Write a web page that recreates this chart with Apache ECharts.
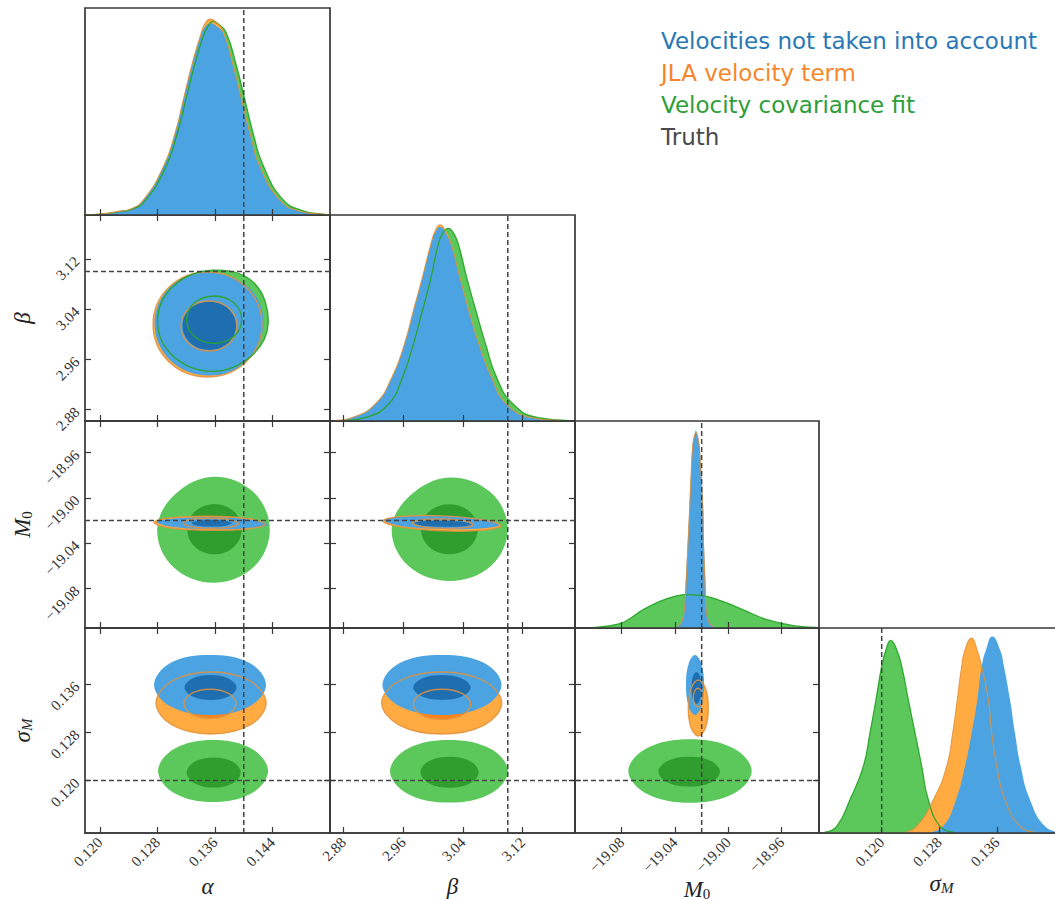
<!DOCTYPE html>
<html><head><meta charset="utf-8">
<script src="https://cdn.jsdelivr.net/npm/echarts@6/dist/echarts.min.js"></script>
<style>html,body{margin:0;padding:0;background:#fff}#c{width:1055px;height:899px}</style>
</head><body><div id="c"></div>
<script>
// ---------------- data ----------------
const alphaRange = [0.1179, 0.1520];
const betaRange = [2.862, 3.190];
const m0Range = [-19.115, -18.932];
const sigmaRange = [0.1113, 0.1453];
const alphaTicks = [0.120, 0.128, 0.136, 0.144];
const betaTicks = [2.88, 2.96, 3.04, 3.12];
const m0Ticks = [-19.08, -19.04, -19.00, -18.96];
const sigmaTicks = [0.120, 0.128, 0.136];
const truthValues = [0.14, 3.10, -19.02, 0.120];
const diagMax = [1.08, 1.062, 1.048, 1.043];
const legendLabels = ['Velocities not taken into account', 'JLA velocity term', 'Velocity covariance fit', 'Truth'];

// 1D marginals [value, relative density]
const alphaBlue = [[0.1180,0.002],[0.11999,0.005],[0.12277,0.02],[0.12416,0.03],[0.12601,0.078],[0.12880,0.252],[0.13043,0.426],[0.13158,0.600],[0.13275,0.774],[0.13414,0.948],[0.13470,0.985],[0.13530,1.0],[0.13610,0.988],[0.13715,0.948],[0.13854,0.774],[0.13971,0.600],[0.14086,0.426],[0.14226,0.252],[0.14504,0.078],[0.14782,0.02],[0.15061,0.005],[0.1518,0.002]];
const alphaOrange = [[0.1180,0.002],[0.11999,0.005],[0.12277,0.02],[0.12416,0.03],[0.12601,0.078],[0.12880,0.252],[0.13043,0.426],[0.13158,0.600],[0.13275,0.78],[0.13414,0.958],[0.13470,1.005],[0.13530,1.022],[0.13610,1.008],[0.13715,0.958],[0.13854,0.78],[0.13971,0.600],[0.14086,0.426],[0.14226,0.252],[0.14504,0.078],[0.14782,0.02],[0.15061,0.005],[0.1518,0.002]];
const alphaGreen = [[0.1181,0.002],[0.12027,0.005],[0.12305,0.02],[0.12444,0.03],[0.12629,0.075],[0.12908,0.245],[0.13071,0.42],[0.13186,0.59],[0.13303,0.765],[0.13442,0.94],[0.13505,0.985],[0.13572,1.01],[0.13650,0.995],[0.13757,0.95],[0.13896,0.78],[0.14013,0.605],[0.14128,0.43],[0.14268,0.26],[0.14546,0.08],[0.14824,0.022],[0.15100,0.005],[0.1520,0.002]];

const betaBlue = [[2.8687,0.002],[2.8911,0.017],[2.9222,0.086],[2.9446,0.223],[2.9615,0.395],[2.9735,0.567],[2.9856,0.739],[2.9972,0.911],[3.0030,0.972],[3.0093,1.0],[3.0160,0.975],[3.0240,0.911],[3.0360,0.739],[3.0481,0.567],[3.0615,0.395],[3.0785,0.223],[3.0986,0.086],[3.1320,0.017],[3.1700,0.002]];
const betaOrange = [[2.8687,0.002],[2.8911,0.017],[2.9222,0.086],[2.9446,0.223],[2.9615,0.395],[2.9735,0.567],[2.9856,0.739],[2.9972,0.915],[3.0030,0.982],[3.0093,1.012],[3.0160,0.985],[3.0240,0.915],[3.0360,0.739],[3.0481,0.567],[3.0615,0.395],[3.0785,0.223],[3.0986,0.086],[3.1320,0.017],[3.1700,0.002]];
const betaGreen = [[2.8821,0.002],[2.9089,0.017],[2.9401,0.086],[2.9588,0.223],[2.9735,0.395],[2.9856,0.567],[2.9972,0.739],[3.0070,0.911],[3.0135,0.972],[3.0204,0.993],[3.0272,0.970],[3.0338,0.911],[3.0450,0.739],[3.0575,0.567],[3.0704,0.395],[3.0852,0.223],[3.1074,0.086],[3.1409,0.017],[3.1833,0.002]];

const m0Blue = [[-19.0393,0.003],[-19.0357,0.025],[-19.0333,0.093],[-19.0318,0.261],[-19.0305,0.430],[-19.0293,0.599],[-19.0282,0.767],[-19.0267,0.936],[-19.0243,1.0],[-19.0218,0.936],[-19.0200,0.767],[-19.0188,0.599],[-19.0183,0.430],[-19.0173,0.261],[-19.0162,0.093],[-19.0138,0.025],[-19.0100,0.003]];
const m0Orange = [[-19.0388,0.003],[-19.0353,0.025],[-19.0330,0.09],[-19.0315,0.25],[-19.0303,0.42],[-19.0291,0.59],[-19.0280,0.76],[-19.0266,0.93],[-19.0243,0.99],[-19.0220,0.93],[-19.0203,0.76],[-19.0191,0.59],[-19.0186,0.42],[-19.0176,0.25],[-19.0166,0.09],[-19.0143,0.025],[-19.0106,0.003]];
const m0Green = [[-19.1015,0.002],[-19.0800,0.025],[-19.0638,0.093],[-19.0513,0.135],[-19.0387,0.163],[-19.0300,0.169],[-19.0162,0.160],[-19.0012,0.127],[-18.9862,0.084],[-18.9712,0.042],[-18.9513,0.012],[-18.9337,0.003]];

const sigmaBlue = [[0.12671,0.004],[0.12855,0.034],[0.13031,0.169],[0.13156,0.339],[0.13249,0.509],[0.13327,0.678],[0.13388,0.847],[0.13448,0.932],[0.13535,1.0],[0.13642,0.932],[0.13697,0.847],[0.13781,0.678],[0.13850,0.509],[0.13929,0.339],[0.14058,0.169],[0.14266,0.034],[0.14475,0.004]];
const sigmaOrange = [[0.12323,0.004],[0.12486,0.034],[0.12716,0.169],[0.12902,0.339],[0.12986,0.509],[0.13049,0.678],[0.13110,0.847],[0.13156,0.932],[0.13249,0.992],[0.13323,0.932],[0.13388,0.847],[0.13480,0.678],[0.13527,0.509],[0.13596,0.339],[0.13711,0.169],[0.13920,0.034],[0.14128,0.004]];
const sigmaGreen = [[0.1121,0.004],[0.11376,0.034],[0.11560,0.169],[0.11745,0.339],[0.11838,0.509],[0.11921,0.678],[0.12000,0.847],[0.12060,0.932],[0.12125,0.980],[0.12208,0.932],[0.12278,0.847],[0.12369,0.678],[0.12462,0.509],[0.12555,0.339],[0.12647,0.169],[0.12809,0.034],[0.1300,0.004]];

// 2D contours (95% and 68%), points [x, y]
const beta_alpha_green95 = [[0.1434,3.018],[0.1414,3.082],[0.1358,3.102],[0.1302,3.077],[0.1280,3.020],[0.1302,2.965],[0.1356,2.941],[0.1410,2.965]];
const beta_alpha_green68 = [[0.13971,3.0233],[0.13860,3.0501],[0.13588,3.0610],[0.13316,3.0501],[0.13205,3.0233],[0.13316,2.9965],[0.13588,2.9856],[0.13860,2.9965]];
const beta_alpha_orange95 = [[0.14254,3.0157],[0.14034,3.0750],[0.13495,3.0993],[0.12957,3.0750],[0.12737,3.0157],[0.12957,2.9564],[0.13495,2.9321],[0.14034,2.9564]];
const beta_alpha_orange68 = [[0.13906,3.0133],[0.13793,3.0416],[0.13516,3.0531],[0.13239,3.0416],[0.13126,3.0133],[0.13239,2.9850],[0.13516,2.9735],[0.13793,2.9850]];
const beta_alpha_blue95 = [[0.14275,3.020],[0.14055,3.076],[0.1347,3.099],[0.12978,3.076],[0.12758,3.0173],[0.12978,2.9585],[0.1352,2.9345],[0.14055,2.9585]];
const beta_alpha_blue68 = [[0.13892,3.0136],[0.13784,3.0410],[0.13520,3.0521],[0.13256,3.0410],[0.13148,3.0136],[0.13256,2.9862],[0.13520,2.9751],[0.13784,2.9862]];

const m0_alpha_green95 = [[0.14362,-19.0281],[0.14134,-18.9948],[0.13578,-18.9812],[0.1304,-18.9970],[0.12794,-19.0281],[0.13022,-19.0614],[0.13578,-19.0750],[0.14134,-19.0614]];
const m0_alpha_green68 = [[0.13971,-19.0276],[0.13861,-19.0118],[0.13592,-19.0053],[0.13323,-19.0118],[0.13213,-19.0276],[0.13323,-19.0434],[0.13592,-19.0499],[0.13861,-19.0434]];
const m0_alpha_orange95 = [[0.14296,-19.0232],[0.14072,-19.0184],[0.13523,-19.0162],[0.12975,-19.0176],[0.12751,-19.0218],[0.12975,-19.0266],[0.13523,-19.0286],[0.14072,-19.0272]];
const m0_alpha_orange68 = [[0.13924,-19.0226],[0.13813,-19.0194],[0.13541,-19.0180],[0.13269,-19.0190],[0.13158,-19.0222],[0.13269,-19.0254],[0.13541,-19.0268],[0.13813,-19.0258]];
const m0_alpha_blue95 = [[0.14342,-19.0236],[0.14116,-19.0192],[0.13565,-19.0171],[0.13014,-19.0182],[0.12788,-19.0214],[0.13014,-19.0258],[0.13565,-19.0277],[0.14116,-19.0266]];
const m0_alpha_blue68 = [[0.13831,-19.0225],[0.13751,-19.0204],[0.13553,-19.0195],[0.13355,-19.0203],[0.13275,-19.0223],[0.13355,-19.0245],[0.13553,-19.0253],[0.13751,-19.0245]];

const m0_beta_green95 = [[3.0999,-19.0277],[3.0774,-18.9953],[3.0223,-18.9820],[2.9700,-18.9975],[2.9446,-19.0277],[2.9672,-19.0602],[3.0223,-19.0734],[3.0774,-19.0602]];
const m0_beta_green68 = [[3.0597,-19.0277],[3.0487,-19.0120],[3.0218,-19.0056],[2.9949,-19.0120],[2.9839,-19.0277],[2.9949,-19.0434],[3.0218,-19.0498],[3.0487,-19.0434]];
const m0_beta_orange95 = [[3.0909,-19.0246],[3.0680,-19.0195],[3.0119,-19.0159],[2.9558,-19.0165],[2.9329,-19.0204],[2.9558,-19.0255],[3.0119,-19.0291],[3.0680,-19.0285]];
const m0_beta_orange68 = [[3.0538,-19.0236],[3.0420,-19.0203],[3.0130,-19.0187],[2.9840,-19.0193],[2.9722,-19.0220],[2.9840,-19.0253],[3.0130,-19.0269],[3.0420,-19.0263]];
const m0_beta_blue95 = [[3.0896,-19.0238],[3.0670,-19.0188],[3.0119,-19.0160],[2.9568,-19.0166],[2.9343,-19.0196],[2.9568,-19.0248],[3.0119,-19.0274],[3.0670,-19.0268]];
const m0_beta_blue68 = [[3.0517,-19.0235],[3.0406,-19.0213],[3.0133,-19.0203],[2.9860,-19.0207],[2.9749,-19.0224],[2.9860,-19.0245],[3.0133,-19.0255],[3.0406,-19.0251]];

const sigma_alpha_green95 = [[0.14338,0.12158],[0.14116,0.12523],[0.13572,0.12672],[0.13029,0.12523],[0.12807,0.12158],[0.13029,0.11793],[0.13572,0.11644],[0.14116,0.11793]];
const sigma_alpha_green68 = [[0.13957,0.12133],[0.13848,0.12310],[0.13581,0.12382],[0.13314,0.12310],[0.13205,0.12133],[0.13314,0.11956],[0.13581,0.11884],[0.13848,0.11956]];
const sigma_alpha_orange95 = [[0.14310,0.13286],[0.14088,0.13651],[0.13544,0.13800],[0.13001,0.13651],[0.12779,0.13286],[0.13001,0.12921],[0.13544,0.12772],[0.14088,0.12921]];
const sigma_alpha_orange68 = [[0.13892,0.13273],[0.13787,0.13444],[0.13530,0.13514],[0.13273,0.13444],[0.13168,0.13273],[0.13273,0.13102],[0.13530,0.13033],[0.13787,0.13102]];
const sigma_alpha_blue95 = [[0.14309,0.13585],[0.14083,0.13950],[0.13530,0.14083],[0.12977,0.13950],[0.12751,0.13585],[0.12977,0.13232],[0.13530,0.13087],[0.14083,0.13232]];
const sigma_alpha_blue68 = [[0.13899,0.13543],[0.13794,0.13690],[0.13537,0.13750],[0.13280,0.13690],[0.13175,0.13543],[0.13280,0.13396],[0.13537,0.13336],[0.13794,0.13396]];

const sigma_beta_green95 = [[3.1003,0.12153],[3.0774,0.12522],[3.0213,0.12672],[2.9652,0.12522],[2.9423,0.12153],[2.9652,0.11784],[3.0213,0.11634],[3.0774,0.11784]];
const sigma_beta_green68 = [[3.0610,0.12139],[3.0497,0.12322],[3.0220,0.12396],[2.9943,0.12322],[2.9830,0.12139],[2.9943,0.11957],[3.0220,0.11882],[3.0497,0.11957]];
const sigma_beta_orange95 = [[3.0919,0.13286],[3.0685,0.13651],[3.0115,0.13800],[2.9545,0.13651],[2.9312,0.13286],[2.9545,0.12921],[3.0115,0.12772],[3.0685,0.12921]];
const sigma_beta_orange68 = [[3.0503,0.13265],[3.0392,0.13442],[3.0119,0.13514],[2.9846,0.13442],[2.9735,0.13265],[2.9846,0.13088],[3.0119,0.13016],[3.0392,0.13088]];
const sigma_beta_blue95 = [[3.0916,0.13585],[3.0685,0.13950],[3.0119,0.14083],[2.9553,0.13950],[2.9322,0.13585],[2.9553,0.13232],[3.0119,0.13087],[3.0685,0.13232]];
const sigma_beta_blue68 = [[3.0503,0.13543],[3.0392,0.13690],[3.0119,0.13750],[2.9846,0.13690],[2.9735,0.13543],[2.9846,0.13396],[3.0119,0.13336],[3.0392,0.13396]];

const sigma_m0_green95 = [[-18.98247,0.12158],[-18.99589,0.12531],[-19.02875,0.12684],[-19.06161,0.12531],[-19.07503,0.12158],[-19.06161,0.11785],[-19.02875,0.11632],[-18.99589,0.11785]];
const sigma_m0_green68 = [[-19.00625,0.12147],[-19.01295,0.12324],[-19.02935,0.12396],[-19.04575,0.12324],[-19.05245,0.12147],[-19.04575,0.11970],[-19.02935,0.11898],[-19.01295,0.11970]];
const sigma_m0_orange95 = [[-19.01503,0.13203],[-19.01720,0.13533],[-19.02253,0.13667],[-19.02785,0.13533],[-19.03003,0.13203],[-19.02785,0.12873],[-19.02253,0.12739],[-19.01720,0.12873]];
const sigma_m0_orange68 = [[-19.01922,0.13377],[-19.02025,0.13485],[-19.02275,0.13530],[-19.02525,0.13485],[-19.02628,0.13377],[-19.02525,0.13269],[-19.02275,0.13224],[-19.02025,0.13269]];
const sigma_m0_blue95 = [[-19.01825,0.13585],[-19.02021,0.13938],[-19.02500,0.14083],[-19.02979,0.13938],[-19.03175,0.13585],[-19.02979,0.13232],[-19.02500,0.13087],[-19.02021,0.13232]];
const sigma_m0_blue68 = [[-19.02013,0.13535],[-19.02122,0.13723],[-19.02388,0.13800],[-19.02654,0.13723],[-19.02763,0.13535],[-19.02654,0.13347],[-19.02388,0.13270],[-19.02122,0.13347]];

// ---------------- build ----------------
const ranges = [alphaRange, betaRange, m0Range, sigmaRange];
const ticks = [alphaTicks, betaTicks, m0Ticks, sigmaTicks];
const decimals = [3, 2, 2, 3];
const marginals = [
  [alphaGreen, alphaOrange, alphaBlue],
  [betaGreen, betaOrange, betaBlue],
  [m0Green, m0Orange, m0Blue],
  [sigmaGreen, sigmaOrange, sigmaBlue]
];
const diagSmooth = [0.5, 0.5, 0.3, 0.5];
const contourSets = {
  '1,0': [beta_alpha_green95, beta_alpha_green68, beta_alpha_orange95, beta_alpha_orange68, beta_alpha_blue95, beta_alpha_blue68],
  '2,0': [m0_alpha_green95, m0_alpha_green68, m0_alpha_orange95, m0_alpha_orange68, m0_alpha_blue95, m0_alpha_blue68],
  '2,1': [m0_beta_green95, m0_beta_green68, m0_beta_orange95, m0_beta_orange68, m0_beta_blue95, m0_beta_blue68],
  '3,0': [sigma_alpha_green95, sigma_alpha_green68, sigma_alpha_orange95, sigma_alpha_orange68, sigma_alpha_blue95, sigma_alpha_blue68],
  '3,1': [sigma_beta_green95, sigma_beta_green68, sigma_beta_orange95, sigma_beta_orange68, sigma_beta_blue95, sigma_beta_blue68],
  '3,2': [sigma_m0_green95, sigma_m0_green68, sigma_m0_orange95, sigma_m0_orange68, sigma_m0_blue95, sigma_m0_blue68]
};

const C = {
  g95: '#5cc85c', g68: '#2f9e2f', o95: '#ffab42', o68: '#ff8418', b95: '#4ca3e2', b68: '#1f6fb0',
  oLine: 'rgba(225,145,60,0.85)', gLine: 'rgba(40,165,40,0.95)', axis: '#383838', truth: '#444'
};
const colLeft = [85, 330, 575, 819], colW = [245, 245, 244, 245];
const rowTop = [8, 215, 421, 628], rowH = [207, 206, 207, 205];
const SERIF = '"Liberation Serif", "DejaVu Serif", serif';
const fmt = (v, d) => v.toFixed(d).replace('-', '\u2212');
const axisNames = ['{i|α}', '{i|β}', '{i|M}{s|0}', '{i|σ}{si|M}'];
const xNameGap = [41, 41, 27, 36];
const nameRich = {
  i: {fontFamily: SERIF, fontStyle: 'italic', fontSize: 23, color: '#222', lineHeight: 24},
  s: {fontFamily: SERIF, fontSize: 15, color: '#222', lineHeight: 24, verticalAlign: 'bottom', padding: [8, 0, 0, 0]},
  si: {fontFamily: SERIF, fontStyle: 'italic', fontSize: 15, color: '#222', lineHeight: 24, verticalAlign: 'bottom', padding: [8, 0, 0, 0]}
};

const grids = [], xAxes = [], yAxes = [], series = [];
const tickStyle = {show: true, inside: true, length: 6, lineStyle: {color: C.axis, width: 1.2}};
const noLine = {show: false, onZero: false};
const labelBase = {rotate: 45, color: '#333', fontFamily: SERIF, fontSize: 15};

for (let i = 0; i < 4; i++) {
  for (let j = 0; j <= i; j++) {
    const g = grids.length;
    grids.push({left: colLeft[j], top: rowTop[i], width: colW[j], height: rowH[i],
      show: true, borderColor: C.axis, borderWidth: 1.7, backgroundColor: 'transparent',
      containLabel: false, outerBoundsMode: 'none'});
    const diag = i === j;
    const bottomRow = i === 3;
    const xb = xAxes.length;
    xAxes.push({type: 'value', gridIndex: g, position: 'bottom', min: ranges[j][0], max: ranges[j][1], z: 10,
      axisLine: {show: true, onZero: false, lineStyle: {color: C.axis, width: 1.7}},
      axisTick: Object.assign({customValues: ticks[j]}, tickStyle),
      axisLabel: Object.assign({show: bottomRow, customValues: ticks[j], margin: 7,
        formatter: (v) => fmt(v, decimals[j])}, labelBase),
      splitLine: {show: false},
      name: bottomRow ? axisNames[j] : '', nameLocation: 'middle', nameGap: xNameGap[j],
      nameTextStyle: {rich: nameRich}
    });
    if (!diag) {
      xAxes.push({type: 'value', gridIndex: g, position: 'top', min: ranges[j][0], max: ranges[j][1], z: 10,
        axisLine: noLine, axisTick: Object.assign({customValues: ticks[j]}, tickStyle),
        axisLabel: {show: false}, splitLine: {show: false}});
    }
    const yl = yAxes.length;
    if (diag) {
      yAxes.push({type: 'value', gridIndex: g, min: 0, max: diagMax[i], axisLine: noLine,
        axisTick: {show: false}, axisLabel: {show: false}, splitLine: {show: false}});
    } else {
      yAxes.push({type: 'value', gridIndex: g, position: 'left', min: ranges[i][0], max: ranges[i][1], z: 10,
        axisLine: noLine, axisTick: Object.assign({customValues: ticks[i]}, tickStyle),
        axisLabel: Object.assign({show: j === 0, customValues: ticks[i], margin: 8,
          formatter: (v) => fmt(v, decimals[i])}, labelBase),
        splitLine: {show: false},
        name: j === 0 ? axisNames[i] : '', nameLocation: 'middle', nameGap: 51, nameRotate: 90,
        nameTextStyle: {rich: nameRich}
      });
      yAxes.push({type: 'value', gridIndex: g, position: 'right', min: ranges[i][0], max: ranges[i][1], z: 10,
        axisLine: noLine, axisTick: Object.assign({customValues: ticks[i]}, tickStyle),
        axisLabel: {show: false}, splitLine: {show: false}});
    }

    if (diag) {
      const [mg, mo, mb] = marginals[i];
      const sm = diagSmooth[i];
      const fillS = (d, col) => ({type: 'line', xAxisIndex: xb, yAxisIndex: yl, data: d, smooth: sm,
        symbol: 'none', lineStyle: {width: 0}, areaStyle: {color: col, opacity: 1}, z: 2, silent: true});
      const lineS = (d, col, w) => ({type: 'line', xAxisIndex: xb, yAxisIndex: yl, data: d, smooth: sm,
        symbol: 'none', lineStyle: {width: w, color: col}, z: 3, silent: true});
      series.push(fillS(mg, C.g95), fillS(mo, C.o95), fillS(mb, C.b95),
        lineS(mg, C.gLine, 1.3), lineS(mo, C.oLine, 1.1));
      series.push({type: 'line', xAxisIndex: xb, yAxisIndex: yl, symbol: 'none', silent: true, z: 6,
        data: [[truthValues[i], 0], [truthValues[i], diagMax[i]]],
        lineStyle: {color: C.truth, width: 1.5, type: [5, 3]}});
    } else {
      const set = contourSets[i + ',' + j];
      const items = [
        {pts: set[0], fill: C.g95}, {pts: set[1], fill: C.g68},
        {pts: set[2], fill: C.o95}, {pts: set[3], fill: C.o68},
        {pts: set[4], fill: C.b95}, {pts: set[5], fill: C.b68},
        {pts: set[2], stroke: C.oLine, lw: 1.4}, {pts: set[3], stroke: C.oLine, lw: 1.4}
      ];
      if (i === 1 && j === 0) {
        items.push({pts: set[0], stroke: C.gLine, lw: 1.3}, {pts: set[1], stroke: C.gLine, lw: 1.3});
      }
      series.push({type: 'custom', coordinateSystem: 'cartesian2d', xAxisIndex: xb, yAxisIndex: yl,
        silent: true, z: 3, clip: false,
        data: items.map((it, k) => [it.pts[0][0], it.pts[0][1], k]),
        renderItem: function (params, api) {
          const it = items[params.dataIndex];
          const pts = it.pts.map(p => api.coord(p));
          return {type: 'polygon', shape: {points: pts, smooth: 0.375},
            style: {fill: it.fill || 'none', stroke: it.stroke || 'none', lineWidth: it.lw || 0}};
        }
      });
      series.push({type: 'line', xAxisIndex: xb, yAxisIndex: yl, symbol: 'none', silent: true, z: 6,
        data: [[truthValues[j], ranges[i][0]], [truthValues[j], ranges[i][1]]],
        lineStyle: {color: C.truth, width: 1.5, type: [5, 3]}});
      series.push({type: 'line', xAxisIndex: xb, yAxisIndex: yl, symbol: 'none', silent: true, z: 6,
        data: [[ranges[j][0], truthValues[i]], [ranges[j][1], truthValues[i]]],
        lineStyle: {color: C.truth, width: 1.5, type: [5, 3]}});
    }
  }
}

const legendColors = ['#2878b5', '#f5862a', '#2e9e37', '#4a4a4a'];
const graphic = legendLabels.map((t, k) => ({
  type: 'text', left: 661, top: 29 + k * 32.3, z: 20,
  style: {text: t, fill: legendColors[k], fontFamily: '"DejaVu Sans", sans-serif', fontSize: 23}
}));

const chart = echarts.init(document.getElementById('c'), null, {renderer: 'svg'});
chart.setOption({
  animation: false,
  backgroundColor: '#fff',
  grid: grids, xAxis: xAxes, yAxis: yAxes, series: series, graphic: graphic
});
</script>
</body></html>
